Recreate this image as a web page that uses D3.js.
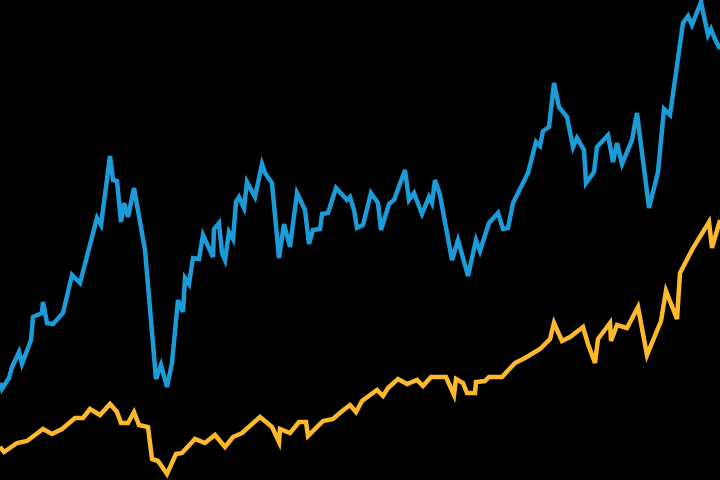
<!DOCTYPE html>
<html lang="en">
<head>
<meta charset="utf-8">
<script src="https://d3js.org/d3.v7.min.js"></script>
<style>
  html, body { margin: 0; padding: 0; background: #000; }
  svg { display: block; }
</style>
</head>
<body>
<script>
// periods (x) and values (y), two series
const bluePeriods = [0,0.5,2.25,3,4.75,5.5,7.75,8.25,10.5,10.75,11.75,13.25,15.75,18,20,24.25,25.25,27.5,28.25,29.25,30.25,31,32,33.5,36.25,39,40.25,41.75,43,44.5,45.75,46.25,47.25,48.25,49.75,50.75,53.25,53.5,54.75,55.5,56.25,57.25,58.25,59,59.75,61,61.75,63.75,65.5,66.25,68,69.75,71,72.5,74.25,76.25,77.25,78.25,80,80.5,82,84,86.75,87.5,88.5,89.25,90.75,92.75,94.5,95.25,97.25,98.5,101.25,102.25,103.5,105.5,107.25,108,108.75,110,113,114.5,117,119,120,122.25,124.5,125.75,127,128.25,132,134,135,135.75,137.25,138.5,139.75,141.75,143.25,144.25,146,146.5,148.5,149.25,152,153.25,154.25,155.5,158,159.25,162.25,164.5,166,167.5,170.75,172,173,175.25,177,177.75,178.75,180];
const blueValues = [24.25,22.75,25.5,28.25,32,29,35,40.75,41.75,44.5,39.25,39,41.75,51.25,49.25,65.5,63.75,81,75,74.75,64.5,69.25,65.75,73,57.5,25.25,28.75,23.25,29.25,45,42,50.5,49,55.5,55.25,61.25,55.75,62.75,64.25,56.75,55,62,60.25,69.5,70.75,68,74.5,70.75,79,76.75,74.25,55.5,64,58.25,71.75,67.5,59,62.5,62.75,66.5,66.75,73,70,70.75,67.5,63,63.75,71.75,69.25,62.5,69,70,77.5,70,71.75,66.5,70.75,69.25,75,71.25,55,60,51,60,57.25,64.25,66.75,62.75,63,69.25,76.75,84.5,83.5,87.25,88.25,99.25,93.25,90.75,83.25,85.5,82.5,74.25,77,83.25,86.25,79.5,84.25,79,85,91.75,68,77,92.75,91.25,114.25,116,113.75,119.5,111.25,112.75,110.25,107.75];

const orangePeriods = [0,1,4.25,6.75,10.75,13,15.5,18.75,20.75,22.5,25,27.5,29.25,30.25,32,33.5,34.75,37,38,39.5,41.75,44,45.5,48.75,51.25,53.75,56.25,58.25,60.5,65,68,69.75,70,72.5,74.75,76.5,77,80.75,83.25,85.25,87.5,89,90.5,94.25,95.75,97,99.5,101.75,104.25,105.75,107.75,111.5,113.5,114,115.75,116.75,118.75,119,121.25,122.25,125.5,128.75,131.25,135,137.5,138.5,140.5,142.5,145.75,147,148.75,149.5,152.5,152.75,154.25,156.75,159.5,161.75,165.25,166.5,169.25,170,173.25,177.25,178,180];
const orangeValues = [8.25,7,9.25,9.75,12.75,11.5,12.75,15.5,15.5,17.75,16.25,19,17,14.25,14.25,17,13.75,13.25,5.25,4.75,1.5,6.5,6.75,10.25,9.25,11.25,8.25,10.75,11.75,15.75,13.25,9.5,12.75,11.75,14.5,14.5,11,14.75,15.25,17,18.75,17,19.75,22.5,21,23,25.25,24,25,23.5,25.75,25.75,21.25,25.25,24.25,21.75,21.75,24.5,24.75,25.75,25.75,29.25,30.5,32.75,35.25,39.25,34.75,35.75,38.25,34,29.25,35.25,39.25,34.75,38.75,38,43.25,31.25,39.75,47.25,40.25,51.75,58,64.5,58,65];

const seriesNames = ["blue", "orange"];
const seriesColors = ["#1b9bd7", "#fdb92c"];

const width = 720, height = 480;

const series = [
  d3.zip(bluePeriods, blueValues),
  d3.zip(orangePeriods, orangeValues)
];

const x = d3.scaleLinear().domain([0, 180]).range([0, width]);
const y = d3.scaleLinear().domain([0, 120]).range([height, 0]);

const svg = d3.select("body").append("svg")
    .attr("width", width)
    .attr("height", height)
    .style("background", "#000");

const line = d3.line()
    .x(d => x(d[0]))
    .y(d => y(d[1]));

svg.selectAll("path.series")
  .data(series)
  .join("path")
    .attr("class", (d, i) => "series " + seriesNames[i])
    .attr("fill", "none")
    .attr("stroke", (d, i) => seriesColors[i])
    .attr("stroke-width", 4.5)
    .attr("stroke-linejoin", "miter")
    .attr("stroke-linecap", "butt")
    .attr("d", line);
</script>
</body>
</html>
